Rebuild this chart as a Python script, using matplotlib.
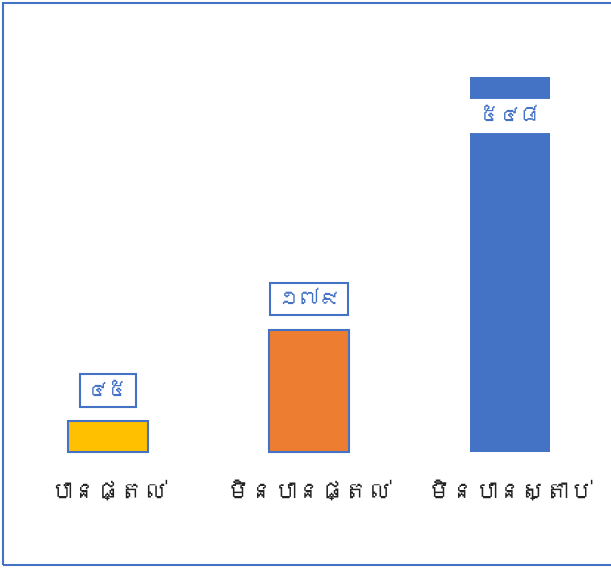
import matplotlib.pyplot as plt
from matplotlib import font_manager
from matplotlib.ft2font import FT2Font
from matplotlib.patches import Rectangle

categories = ['បានផ្តល់', 'មិនបានផ្តល់', 'មិនបានស្តាប់']
values = [45, 179, 548]
value_labels = ['៤៥', '១៧៩', '៥៤៨']
colors = ['#FFC000', '#ED7D31', '#4472C4']
edge = '#4472C4'


def find_khmer_font():
    # look for any installed font that has Khmer glyphs
    for f in font_manager.fontManager.ttflist:
        try:
            if 0x1780 in FT2Font(f.fname).get_charmap():
                return f.name
        except Exception:
            continue
    return None


khmer = find_khmer_font()
families = [khmer, 'DejaVu Sans'] if khmer else ['DejaVu Sans']
plt.rcParams['font.family'] = families

W, H = 611, 568
fig = plt.figure(figsize=(W / 100, H / 100), dpi=100)
ax = fig.add_axes([0, 0, 1, 1])

# pixel layout: category spacing 201px, first center 108px, baseline 452px
px_x = 201.0
px_y = 0.684
ax.set_xlim(-108 / px_x, (W - 108) / px_x)
ax.set_ylim(-(H - 452) / px_y, 452 / px_y)
ax.axis('off')

x = list(range(len(categories)))
ax.bar(x, values, width=0.4, color=colors, edgecolor=[edge, edge, 'none'], linewidth=1.5)

for i, (v, lab) in enumerate(zip(values, value_labels)):
    if i == 2:
        # label sits inside the tall bar
        ax.annotate(lab, (i, v), xytext=(0, -28), textcoords='offset points',
                    ha='center', va='center', fontsize=15, fontweight='bold',
                    color=edge, bbox=dict(boxstyle='square,pad=0.35', facecolor='white',
                                          edgecolor='white', linewidth=1.5))
    else:
        ax.annotate(lab, (i, v), xytext=(0, 22), textcoords='offset points',
                    ha='center', va='center', fontsize=15, fontweight='bold',
                    color=edge, bbox=dict(boxstyle='square,pad=0.35', facecolor='white',
                                          edgecolor=edge, linewidth=1.5))

for i, c in enumerate(categories):
    ax.annotate(c, (i, 0), xytext=(0, -28), textcoords='offset points',
                ha='center', va='center', fontsize=17, color='#222222')

# outer frame of the chart area
fig.patches.append(Rectangle((3 / W, 3 / H), 2.0, (H - 6) / H, transform=fig.transFigure,
                             fill=False, edgecolor=edge, linewidth=1.5))

fig.savefig('out.png', dpi=100)
